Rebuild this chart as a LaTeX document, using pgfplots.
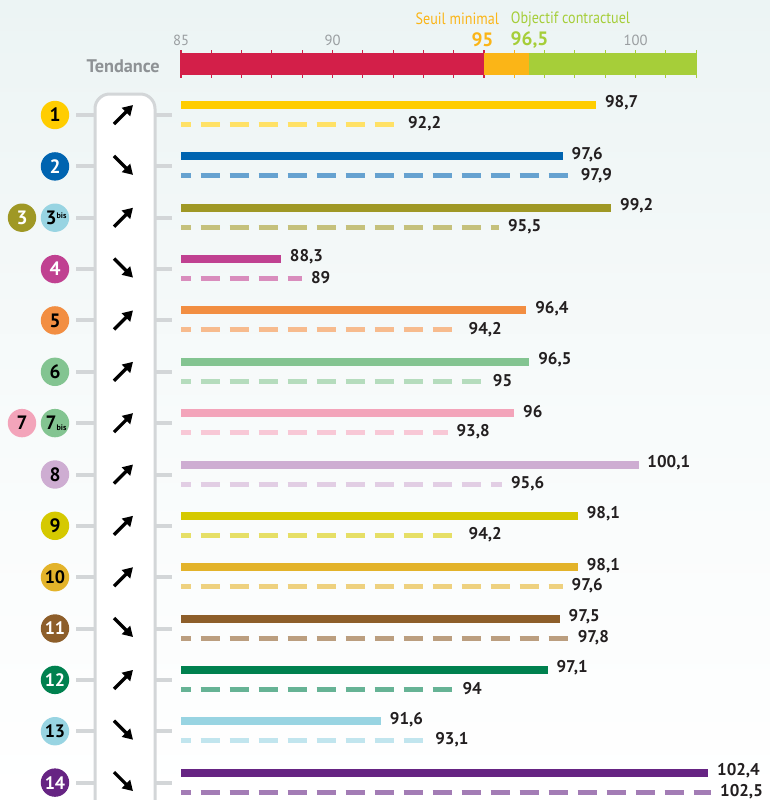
\documentclass[border=0pt]{standalone}
\usepackage{fontspec}
\setmainfont{PT Sans}
\newfontfamily\cond[FakeStretch=0.86]{PT Sans}
\usepackage{pgfplots}
\pgfplotsset{compat=1.18}
\usetikzlibrary{arrows.meta}

\definecolor{bgtop}{HTML}{ECF4F4}
\definecolor{labc}{HTML}{231F20}
\definecolor{boxgray}{HTML}{D3D6D8}
\definecolor{scred}{HTML}{D31F49}
\definecolor{scorange}{HTML}{FBB517}
\definecolor{scgreen}{HTML}{A6CE39}
\definecolor{tickgray}{HTML}{9A9EA1}
\definecolor{tendgray}{HTML}{8E9295}
\definecolor{cA}{HTML}{FFCD00}
\definecolor{cB}{HTML}{0064B0}
\definecolor{cC}{HTML}{9F9825}
\definecolor{cCb}{HTML}{98D4E2}
\definecolor{cD}{HTML}{C04191}
\definecolor{cE}{HTML}{F28E42}
\definecolor{cF}{HTML}{83C491}
\definecolor{cG}{HTML}{F3A4BA}
\definecolor{cH}{HTML}{CEADD2}
\definecolor{cI}{HTML}{D5C900}
\definecolor{cJ}{HTML}{E3B32A}
\definecolor{cK}{HTML}{8D5E2A}
\definecolor{cL}{HTML}{00814F}
\definecolor{cM}{HTML}{98D4E2}
\definecolor{cN}{HTML}{662483}

% #1 y solid, #2 y dashed, #3 solid value, #4 solid label, #5 dashed value, #6 dashed label, #7 colour
\newcommand{\linerow}[7]{%
  \addplot[draw=#7, line width=6pt, line cap=butt] coordinates {(85,#1) (#3,#1)};
  \addplot[draw=#7!60!white, line width=3.75pt, line cap=butt, dash pattern=on 14.25pt off 7.5pt, dash phase=7pt] coordinates {(85,#2) (#5,#2)};
  \node[anchor=west, inner sep=0pt, xshift=6.5pt, yshift=1.5pt, text=labc, font=\bfseries\fontsize{12.7}{13}\selectfont] at (axis cs:#3,#1) {#4};
  \node[anchor=west, inner sep=0pt, xshift=6.5pt, yshift=0.5pt, text=labc, font=\bfseries\fontsize{12.7}{13}\selectfont] at (axis cs:#5,#2) {#6};
}

\tikzset{badge/.style={circle, fill=#1, minimum size=21.3pt, inner sep=0pt, font=\bfseries\fontsize{14.5}{14}\selectfont}}

\newcommand{\trend}[1]{%
  \draw[boxgray, line width=3pt] (76,#1) -- (94,#1);
  \draw[boxgray, line width=3pt] (156,#1) -- (172,#1);
}
\newcommand{\uparr}[1]{\draw[line width=2.5pt, -{Triangle[length=7.5pt,width=8.5pt]}] (114,#1+9) -- (133,#1-10);}
\newcommand{\downarr}[1]{\draw[line width=2.5pt, -{Triangle[length=7.5pt,width=8.5pt]}] (114,#1-10.5) -- (133,#1+8.5);}

\begin{document}
\begin{tikzpicture}
\begin{scope}[x=0.75pt, y=-0.75pt]
  \shade[top color=bgtop, bottom color=white, middle color=white!60!bgtop] (0,0) rectangle (770,800);
\end{scope}

\begin{axis}[
  at={(0,0)}, anchor=north west,
  width=577.5pt, height=600pt, scale only axis,
  xmin=79.026, xmax=104.439,
  ymin=0, ymax=800, y dir=reverse,
  hide axis, clip=false,
]
% scale bar ticks
\pgfplotsinvokeforeach{85,...,95}{\draw[scred, line width=0.8pt] (axis cs:#1,50) -- (axis cs:#1,78);}
\draw[scorange, line width=0.8pt] (axis cs:96,50) -- (axis cs:96,78);
\pgfplotsinvokeforeach{97,...,102}{\draw[scgreen, line width=0.8pt] (axis cs:#1,50) -- (axis cs:#1,78);}
\fill[scred] (axis cs:85,53) rectangle (axis cs:95,75);
\fill[scorange] (axis cs:95,53) rectangle (axis cs:96.5,75);
\fill[scgreen] (axis cs:96.5,53) rectangle (axis cs:102,75);
\node[text=tickgray, font=\fontsize{11}{11}\selectfont] at (axis cs:85,40) {85};
\node[text=tickgray, font=\fontsize{11}{11}\selectfont] at (axis cs:90,40) {90};
\node[text=tickgray, font=\fontsize{11}{11}\selectfont] at (axis cs:100,40) {100};
\node[text=scorange, font=\bfseries\fontsize{14.5}{14}\selectfont] at (axis cs:94.95,40) {95};
\node[text=scgreen, font=\bfseries\fontsize{14.5}{14}\selectfont] at (axis cs:96.5,40) {96,5};
\node[anchor=east, inner sep=0pt, text=scorange, font=\cond\fontsize{12.3}{12}\selectfont] at (axis cs:95.5,19) {Seuil minimal};
\node[anchor=west, inner sep=0pt, text=scgreen, font=\cond\fontsize{12.3}{12}\selectfont] at (axis cs:95.88,19) {Objectif contractuel};

\linerow{105}{124.5}{98.7}{98,7}{92.2}{92,2}{cA}
\linerow{156.4}{175.9}{97.6}{97,6}{97.9}{97,9}{cB}
\linerow{207.7}{227.2}{99.2}{99,2}{95.5}{95,5}{cC}
\linerow{259.1}{278.6}{88.3}{88,3}{89}{89}{cD}
\linerow{310.4}{329.9}{96.4}{96,4}{94.2}{94,2}{cE}
\linerow{361.8}{381.3}{96.5}{96,5}{95}{95}{cF}
\linerow{413.1}{432.6}{96}{96}{93.8}{93,8}{cG}
\linerow{464.5}{484}{100.1}{100,1}{95.6}{95,6}{cH}
\linerow{515.8}{535.3}{98.1}{98,1}{94.2}{94,2}{cI}
\linerow{567.2}{586.7}{98.1}{98,1}{97.6}{97,6}{cJ}
\linerow{618.5}{638}{97.5}{97,5}{97.8}{97,8}{cK}
\linerow{669.9}{689.4}{97.1}{97,1}{94}{94}{cL}
\linerow{721.2}{740.7}{91.6}{91,6}{93.1}{93,1}{cM}
\linerow{772.6}{792.1}{102.4}{102,4}{102.5}{102,5}{cN}
\end{axis}

\begin{scope}[x=0.75pt, y=-0.75pt]
  \node[anchor=east, inner sep=0pt, text=tendgray, font=\bfseries\fontsize{13.7}{14}\selectfont] at (160,66) {Tendance};
  \foreach \yy in {115,166.4,217.7,269.1,320.4,371.8,423.1,474.5,525.8,577.2,628.5,679.9,731.2,782.6}{\trend{\yy}}
  \draw[boxgray, line width=2.25pt, fill=white, rounded corners=11pt] (95,94) rectangle (155,840);
  \uparr{115}
  \downarr{166.4}
  \uparr{217.7}
  \downarr{269.1}
  \uparr{320.4}
  \uparr{371.8}
  \uparr{423.1}
  \uparr{474.5}
  \uparr{525.8}
  \uparr{577.2}
  \downarr{628.5}
  \uparr{679.9}
  \downarr{731.2}
  \downarr{782.6}
  \node[badge=cA, text=black] at (55,115) {1};
  \node[badge=cB, text=white] at (55,166.4) {2};
  \node[badge=cC, text=white] at (22,217.7) {3};
  \node[badge=cCb, text=black] at (55,217.7) {\hspace*{1.5pt}3\raisebox{4.5pt}{\fontsize{6}{6}\selectfont bis}};
  \node[badge=cD, text=white] at (55,269.1) {4};
  \node[badge=cE, text=black] at (55,320.4) {5};
  \node[badge=cF, text=black] at (55,371.8) {6};
  \node[badge=cG, text=black] at (22,423.1) {7};
  \node[badge=cF, text=black] at (55,423.1) {\hspace*{1.5pt}7\raisebox{-0.5pt}{\fontsize{6}{6}\selectfont bis}};
  \node[badge=cH, text=black] at (55,474.5) {8};
  \node[badge=cI, text=black] at (55,525.8) {9};
  \node[badge=cJ, text=black, font=\bfseries\fontsize{13.5}{13}\selectfont] at (55,577.2) {10};
  \node[badge=cK, text=white, font=\bfseries\fontsize{13.5}{13}\selectfont] at (55,628.5) {11};
  \node[badge=cL, text=white, font=\bfseries\fontsize{13.5}{13}\selectfont] at (55,679.9) {12};
  \node[badge=cM, text=black, font=\bfseries\fontsize{13.5}{13}\selectfont] at (55,731.2) {13};
  \node[badge=cN, text=white, font=\bfseries\fontsize{13.5}{13}\selectfont] at (55,782.6) {14};
  \pgfresetboundingbox
  \useasboundingbox (0,0) rectangle (770,800);
\end{scope}
\end{tikzpicture}
\end{document}
